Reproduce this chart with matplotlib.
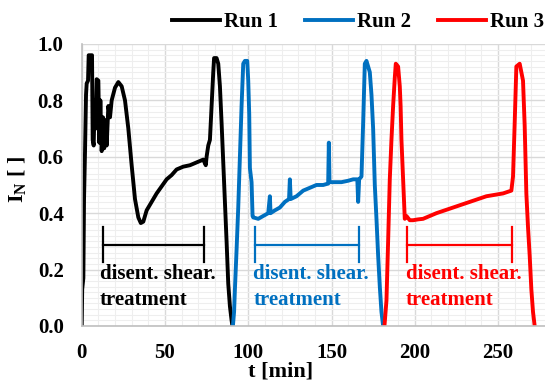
import matplotlib
matplotlib.use("Agg")
import matplotlib.pyplot as plt
from matplotlib.ticker import MultipleLocator, FormatStrFormatter

plt.rcParams['font.family'] = ['Liberation Serif', 'DejaVu Serif']
plt.rcParams['font.weight'] = 'bold'
plt.rcParams['mathtext.fontset'] = 'custom'
plt.rcParams['mathtext.rm'] = 'Liberation Serif:bold'
plt.rcParams['mathtext.bf'] = 'Liberation Serif:bold'
plt.rcParams['mathtext.it'] = 'Liberation Serif:bold'

# run 1 (black)
t1 = [0, 0.3, 1.0, 1.4, 2.0, 2.6, 3.0, 3.8, 4.2, 6.2, 6.6, 7.2, 7.8, 8.4, 9.0, 10.0,
      10.6, 11.2, 12.0, 12.8, 13.5, 14.2, 15.0, 16.0, 17.0, 18.0, 20.0, 22.0, 24.0,
      26.0, 28.0, 30.0, 32.0, 34.0, 35.5, 37.0, 39.0, 42.0, 45.0, 48.0, 51.0, 54.0,
      57.0, 61.0, 65.0, 69.0, 73.0, 74.5, 75.0, 76.0, 77.0, 78.0, 79.0, 79.5, 81.0,
      82.0, 83.0, 84.0, 85.0, 86.0, 87.0, 88.0, 89.0, 90.0, 90.5]
i1 = [0.0, 0.13, 0.17, 0.45, 0.62, 0.82, 0.86, 0.87, 0.96, 0.96, 0.66, 0.64, 0.80, 0.70,
      0.875, 0.87, 0.65, 0.80, 0.62, 0.74, 0.63, 0.73, 0.64, 0.78, 0.74, 0.80, 0.845,
      0.865, 0.85, 0.80, 0.70, 0.57, 0.45, 0.385, 0.365, 0.37, 0.41, 0.44, 0.47, 0.495,
      0.52, 0.535, 0.555, 0.565, 0.57, 0.58, 0.59, 0.57, 0.60, 0.64, 0.66, 0.78, 0.90,
      0.95, 0.95, 0.93, 0.85, 0.72, 0.58, 0.44, 0.30, 0.15, 0.07, 0.02, 0.0]

# run 2 (blue)
t2 = [90.8, 91.5, 92, 93, 94, 95, 96, 97, 98, 99.4, 100, 100.6, 101, 102, 102.6, 103,
      106, 109, 112, 113, 113.4, 116, 119, 122, 124.5, 125, 125.5, 129, 133, 137, 141,
      145, 148, 148.4, 148.8, 152, 156, 160, 163, 165.5, 166, 166.6, 168, 169, 170, 171,
      173, 174, 175, 176, 177, 178, 179, 180, 181]
i2 = [0.0, 0.05, 0.13, 0.27, 0.42, 0.60, 0.78, 0.93, 0.94, 0.94, 0.87, 0.75, 0.56, 0.51,
      0.39, 0.385, 0.38, 0.39, 0.40, 0.46, 0.40, 0.41, 0.42, 0.44, 0.45, 0.52, 0.45, 0.46,
      0.48, 0.49, 0.50, 0.50, 0.505, 0.65, 0.51, 0.51, 0.51, 0.515, 0.52, 0.52, 0.44,
      0.52, 0.53, 0.72, 0.93, 0.94, 0.90, 0.82, 0.70, 0.50, 0.38, 0.25, 0.14, 0.05, 0.0]

# run 3 (red)
t3 = [181.8, 183, 184, 185, 186, 187, 188, 188.6, 190, 191, 191.5, 192, 193, 194, 195,
      197, 199, 202, 205, 209, 213, 218, 223, 228, 233, 238, 243, 248, 253, 258, 259,
      260, 261, 263, 264, 265, 266, 267, 268, 269, 270, 271, 272]
i3 = [0.0, 0.09, 0.30, 0.52, 0.66, 0.78, 0.88, 0.93, 0.92, 0.85, 0.78, 0.66, 0.52, 0.38,
      0.39, 0.375, 0.375, 0.378, 0.38, 0.39, 0.40, 0.41, 0.42, 0.43, 0.44, 0.45, 0.46,
      0.465, 0.47, 0.48, 0.53, 0.72, 0.92, 0.93, 0.90, 0.87, 0.71, 0.47, 0.35, 0.25,
      0.13, 0.05, 0.0]

runs = ["Run 1", "Run 2", "Run 3"]
colors = ["#000000", "#0070C0", "#FF0000"]
# shear treatment intervals (start, end) in min
brackets = [(12.6, 73.4), (104, 166.6), (195.4, 258.6)]
text_x = [11, 103, 194.6]

fig = plt.figure(figsize=(5.45, 3.81), dpi=100)
ax = fig.add_axes([0.1499, 0.1444, 0.8556, 0.7402])

for t, i, c, lab in zip([t1, t2, t3], [i1, i2, i3], colors, runs):
    ax.plot(t, i, color=c, linewidth=2.8, label=lab, solid_joinstyle='round')

for (a, b), c, tx in zip(brackets, colors, text_x):
    ax.plot([a, b], [0.287, 0.287], color=c, linewidth=1.6)
    ax.plot([a, a], [0.227, 0.35], color=c, linewidth=1.6)
    ax.plot([b, b], [0.227, 0.35], color=c, linewidth=1.6)
    ax.text(tx, 0.165, "disent. shear.", color=c, fontsize=15, fontweight='bold',
            ha='left', va='baseline')
    ax.text(tx, 0.075, "treatment", color=c, fontsize=15, fontweight='bold',
            ha='left', va='baseline')

ax.set_xlim(0, 280)
ax.set_ylim(0, 1.0)
ax.xaxis.set_major_locator(MultipleLocator(50))
ax.xaxis.set_minor_locator(MultipleLocator(10))
ax.yaxis.set_major_locator(MultipleLocator(0.2))
ax.yaxis.set_minor_locator(MultipleLocator(0.02))
ax.yaxis.set_major_formatter(FormatStrFormatter('%.1f'))
ax.grid(True, which='major', color='#D9D9D9', linewidth=1.0)
ax.grid(True, which='minor', color='#EEEEEE', linewidth=0.8)
ax.set_axisbelow(True)
ax.tick_params(which='both', length=0, labelsize=15)
ax.tick_params(axis='x', pad=12)
ax.tick_params(axis='y', pad=13)
for s in ['top', 'right']:
    ax.spines[s].set_visible(False)
for s in ['left', 'bottom']:
    ax.spines[s].set_color('#BFBFBF')
    ax.spines[s].set_linewidth(1.2)

ax.set_xlabel("t [min]", fontsize=16, fontweight='bold')
ax.xaxis.set_label_coords(0.427, -0.163)
ax.xaxis.label.set_va('center')
ax.set_ylabel(r"I$_{\mathrm{N}}$ [ ]", fontsize=16, fontweight='bold')
ax.yaxis.set_label_coords(-0.138, 0.518)
ax.yaxis.label.set_va('center')

fig.legend(loc='center', bbox_to_anchor=(0.657, 0.942), ncol=3, frameon=False,
           fontsize=15, handlelength=2.3, handletextpad=0.2, columnspacing=1.3,
           borderaxespad=0)

fig.savefig("out.png", dpi=100)
